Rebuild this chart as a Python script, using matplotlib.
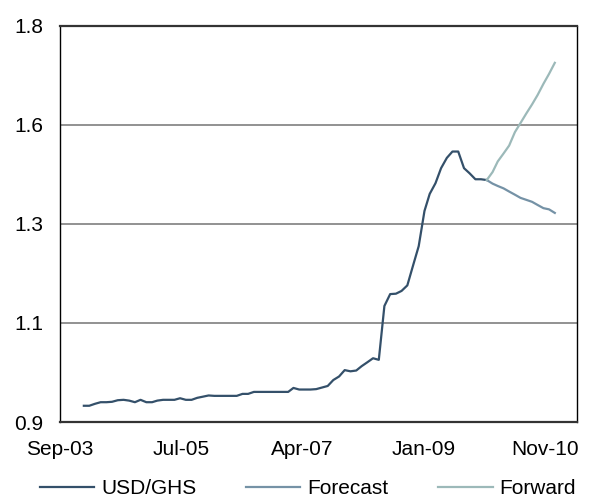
import numpy as np
import pandas as pd
import matplotlib
matplotlib.use("Agg")
import matplotlib.pyplot as plt
import matplotlib.dates as mdates

plt.rcParams['font.family'] = ['Liberation Sans', 'DejaVu Sans']

# monthly USD/GHS, Jan-04 .. Dec-09 (month end)
spot_dates = pd.date_range("2004-01-31", periods=72, freq="ME")
spot = [0.891, 0.891, 0.896, 0.900, 0.900, 0.901, 0.905, 0.906, 0.904, 0.900,
        0.906, 0.900, 0.900, 0.904, 0.906, 0.906, 0.906, 0.910, 0.906, 0.906,
        0.911, 0.914, 0.917, 0.916, 0.916, 0.916, 0.916, 0.916, 0.921, 0.921,
        0.926, 0.926, 0.926, 0.926, 0.926, 0.926, 0.926, 0.936, 0.932, 0.932,
        0.932, 0.933, 0.937, 0.941, 0.956, 0.965, 0.981, 0.978, 0.980, 0.991,
        1.001, 1.011, 1.007, 1.143, 1.173, 1.174, 1.181, 1.195, 1.244, 1.294,
        1.383, 1.426, 1.453, 1.491, 1.517, 1.533, 1.533, 1.491, 1.478, 1.463,
        1.463, 1.461]

# projections, Dec-09 .. Dec-10
proj_dates = pd.date_range("2009-12-31", periods=13, freq="ME")
forecast = [1.461, 1.452, 1.446, 1.440, 1.432, 1.424, 1.416, 1.411, 1.406,
            1.398, 1.390, 1.387, 1.378]
forward = [1.461, 1.481, 1.508, 1.528, 1.548, 1.582, 1.605, 1.629, 1.652,
           1.676, 1.704, 1.729, 1.757]

y_ticks = [0.85, 1.10, 1.35, 1.60, 1.85]
y_labels = ['0.9', '1.1', '1.3', '1.6', '1.8']

# date axis labels every 650 days
t0 = mdates.date2num(pd.Timestamp("2003-09-25"))
x_ticks = [t0 + 650 * k for k in range(5)]
x_labels = ['Sep-03', 'Jul-05', 'Apr-07', 'Jan-09', 'Nov-10']

fs = 15

fig = plt.figure(figsize=(5.91, 5.00), dpi=100)
ax = fig.add_axes([0.1015, 0.156, 0.8748, 0.792])

ax.plot(spot_dates, spot, color='#34506A', lw=1.6, label='USD/GHS')
ax.plot(proj_dates, forecast, color='#7592A6', lw=1.6, label='Forecast')
ax.plot(proj_dates, forward, color='#9CB9B9', lw=1.6, label='Forward')

ax.set_xlim(t0, t0 + 2773)
ax.set_ylim(0.85, 1.85)
ax.set_xticks(x_ticks)
ax.set_xticklabels(x_labels)
ax.set_yticks(y_ticks)
ax.set_yticklabels(y_labels)
ax.tick_params(length=0, labelsize=fs, colors='black')
ax.tick_params(axis='y', pad=12)
ax.tick_params(axis='x', pad=13)

for y in y_ticks[1:-1]:
    ax.axhline(y, color='#7F7F7F', lw=1.2, zorder=0)

for side in ['left', 'right']:
    ax.spines[side].set_color('black')
    ax.spines[side].set_linewidth(1.0)
for side in ['top', 'bottom']:
    ax.spines[side].set_color('#333333')
    ax.spines[side].set_linewidth(1.6)

fig.legend(loc='center left', bbox_to_anchor=(0.0677, 0.022), ncol=3,
           frameon=False, fontsize=fs, handlelength=2.6, handletextpad=0.33,
           columnspacing=2.4, borderpad=0, borderaxespad=0)

fig.savefig("out.png", dpi=100)
